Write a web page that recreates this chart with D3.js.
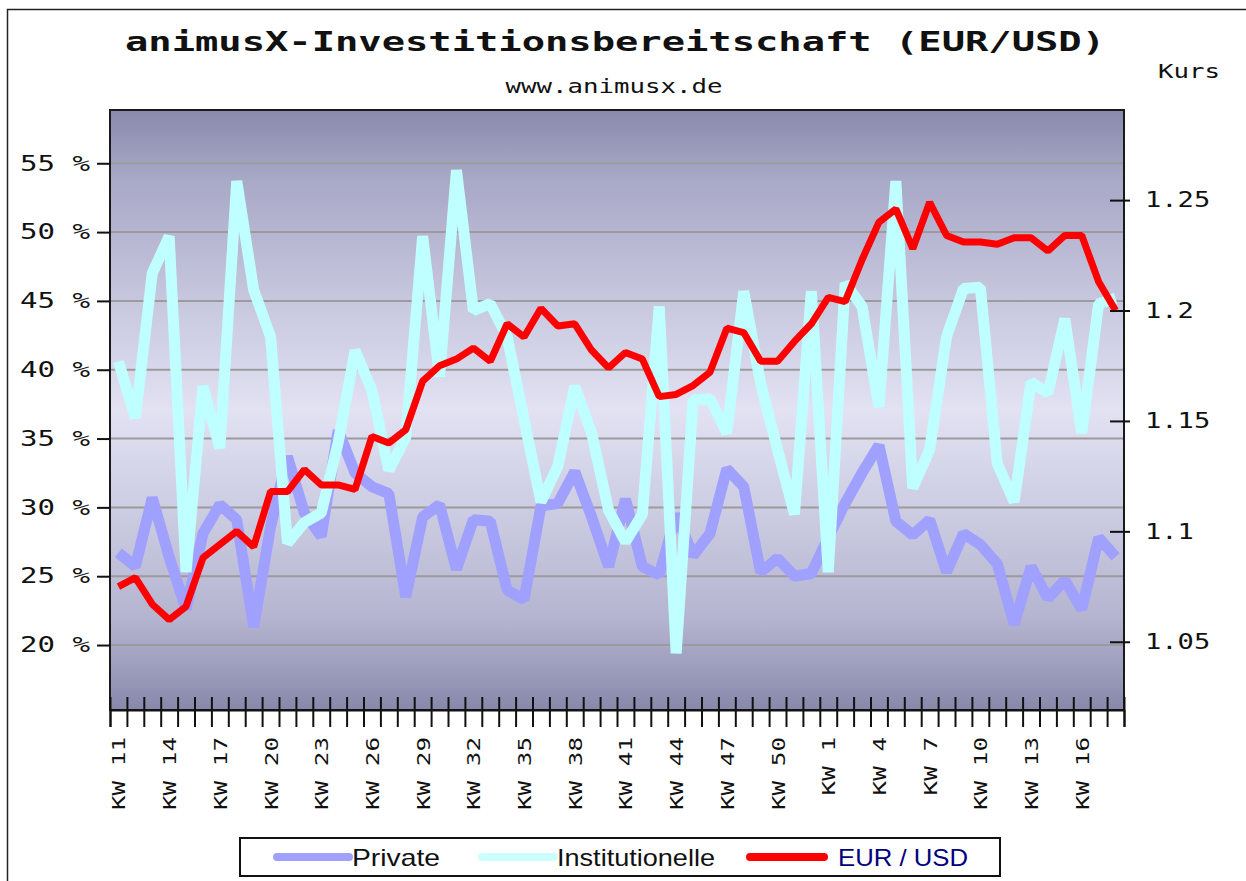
<!DOCTYPE html>
<meta charset="utf-8">
<style>
  body { margin: 0; background: #fff; }
  text { font-family: "DejaVu Sans Mono", monospace; fill: #111; }
  .legend text { font-family: "Liberation Sans", Arial, sans-serif; }
</style>
<body>
<script src="https://d3js.org/d3.v7.min.js"></script>
<script>

// calendar weeks (KW 11 .. KW 52, then KW 1 .. KW 18)
var weeks = [11, 12, 13, 14, 15, 16, 17, 18, 19, 20, 21, 22, 23, 24, 25, 26, 27, 28, 29, 30,
             31, 32, 33, 34, 35, 36, 37, 38, 39, 40, 41, 42, 43, 44, 45, 46, 47, 48, 49, 50,
             51, 52, 1, 2, 3, 4, 5, 6, 7, 8, 9, 10, 11, 12, 13, 14, 15, 16, 17, 18];

// weeks that get a label on the x axis
var labelWeeks = [11, 14, 17, 20, 23, 26, 29, 32, 35, 38, 41, 44, 47, 50, 1, 4, 7, 10, 13, 16];

// investment readiness in percent
var privateVals = [26.7, 25.7, 30.7, 26.4, 22.6, 28.1, 30.2, 29.1, 21.3, 28.6,
                   33.7, 29.6, 27.9, 35.6, 32.5, 31.5, 31.0, 23.5, 29.3, 30.2,
                   25.5, 29.1, 29.0, 24.0, 23.3, 30.1, 30.3, 32.6, 29.3, 25.7,
                   30.6, 25.7, 25.1, 29.5, 26.5, 28.1, 32.8, 31.5, 25.3, 26.3,
                   25.0, 25.2, 27.8, 30.3, 32.5, 34.5, 29.0, 28.0, 29.1, 25.3,
                   28.1, 27.3, 25.9, 21.5, 25.7, 23.4, 24.7, 22.6, 27.8, 26.4];

var instVals = [40.6, 36.5, 47.0, 49.7, 25.3, 38.8, 34.3, 53.7, 45.8, 42.4,
                27.4, 28.9, 29.6, 34.7, 41.4, 38.5, 32.7, 35.1, 49.7, 39.5,
                54.5, 44.3, 44.8, 42.4, 36.4, 30.4, 33.0, 38.8, 35.4, 29.8,
                27.5, 29.5, 44.6, 19.4, 37.8, 37.9, 35.4, 45.7, 39.0, 34.2,
                29.5, 45.7, 25.3, 46.3, 44.6, 37.3, 53.7, 31.4, 34.2, 42.4,
                45.9, 46.0, 33.2, 30.4, 39.1, 38.3, 43.7, 35.4, 44.8, 45.2];

// EUR/USD rate (right axis)
var eurUsd = [1.075, 1.079, 1.067, 1.060, 1.066, 1.088, 1.094, 1.100, 1.093, 1.118,
              1.118, 1.128, 1.121, 1.121, 1.119, 1.143, 1.140, 1.146, 1.168, 1.175,
              1.178, 1.183, 1.177, 1.194, 1.188, 1.201, 1.193, 1.194, 1.182, 1.174,
              1.181, 1.178, 1.161, 1.162, 1.166, 1.172, 1.192, 1.190, 1.177, 1.177,
              1.186, 1.194, 1.206, 1.204, 1.223, 1.240, 1.246, 1.228, 1.249, 1.234,
              1.231, 1.231, 1.230, 1.233, 1.233, 1.227, 1.234, 1.234, 1.213, 1.200];

var pctTicks = [20, 25, 30, 35, 40, 45, 50, 55];
var kursTicks = [1.05, 1.1, 1.15, 1.2, 1.25];

// plot box
var plotL = 110, plotR = 1124, plotT = 110, plotB = 710;

var svg = d3.select("body").append("svg")
    .attr("width", 1246)
    .attr("height", 881);

// background gradient of the plot
var grad = svg.append("defs").append("linearGradient")
    .attr("id", "bg").attr("x1", 0).attr("y1", 0).attr("x2", 0).attr("y2", 1);
grad.append("stop").attr("offset", "0").attr("stop-color", "#8a8aac");
grad.append("stop").attr("offset", "0.12").attr("stop-color", "#a9a9c8");
grad.append("stop").attr("offset", "0.5").attr("stop-color", "#e2e2f3");
grad.append("stop").attr("offset", "0.85").attr("stop-color", "#b4b4d0");
grad.append("stop").attr("offset", "1").attr("stop-color", "#8888ab");

// outer frame (left and top only visible)
svg.append("path")
    .attr("d", "M7.5,881V9.5H1246")
    .attr("fill", "none")
    .attr("stroke", "#222")
    .attr("stroke-width", 1.5);

// scales
var idx = weeks.map(function(w, i) { return i; });
var x = d3.scaleBand().domain(idx).range([plotL, plotR]);
var xTick = d3.scaleLinear().domain([0, weeks.length]).range([plotL, plotR]);
var yL = d3.scaleLinear().domain([15.28, 58.87]).range([plotB, plotT]);
var yR = d3.scaleLinear().domain([1.0191, 1.2908]).range([plotB, plotT]);

function cx(i) { return x(i) + x.bandwidth() / 2; }

svg.append("rect")
    .attr("x", plotL).attr("y", plotT)
    .attr("width", plotR - plotL).attr("height", plotB - plotT)
    .attr("fill", "url(#bg)");

// grid lines
svg.append("g").selectAll("line")
    .data(pctTicks)
  .enter().append("line")
    .attr("x1", plotL).attr("x2", plotR)
    .attr("y1", function(d) { return yL(d); })
    .attr("y2", function(d) { return yL(d); })
    .attr("stroke", "#9c9a9a")
    .attr("stroke-width", 2);

// the three lines
function drawLine(vals, scale, color, w) {
  var line = d3.line()
      .x(function(d, i) { return cx(i); })
      .y(function(d) { return scale(d); });
  svg.append("path")
      .datum(vals)
      .attr("d", line)
      .attr("fill", "none")
      .attr("stroke", color)
      .attr("stroke-width", w)
      .attr("stroke-linejoin", "bevel");
}
drawLine(privateVals, yL, "#a0a0ff", 11);
drawLine(instVals, yL, "#bfffff", 11);
drawLine(eurUsd, yR, "#ff0000", 7);

// plot border
svg.append("rect")
    .attr("x", plotL).attr("y", plotT)
    .attr("width", plotR - plotL).attr("height", plotB - plotT)
    .attr("fill", "none")
    .attr("stroke", "#1a1a1a")
    .attr("stroke-width", 2);

// left axis
var gL = svg.append("g")
    .attr("transform", "translate(" + plotL + ",0)")
    .call(d3.axisLeft(yL).tickValues(pctTicks).tickSize(13).tickPadding(7)
      .tickFormat(function(d) { return d + " %"; }));
gL.select(".domain").remove();
gL.selectAll("line").attr("stroke", "#111").attr("stroke-width", 2);
gL.selectAll("text")
    .style("font-size", "21px")
    .attr("fill", "#111")
    .attr("textLength", 70)
    .attr("lengthAdjust", "spacingAndGlyphs");

// right axis
var gR = svg.append("g")
    .attr("transform", "translate(" + plotR + ",0)")
    .call(d3.axisRight(yR).tickValues(kursTicks).tickSize(6).tickPadding(15)
      .tickFormat(function(d) { return String(+d.toFixed(2)); }));
gR.select(".domain").remove();
gR.selectAll("line").attr("x1", -14).attr("stroke", "#111").attr("stroke-width", 2);
gR.selectAll("text")
    .style("font-size", "21px")
    .attr("fill", "#111")
    .attr("textLength", function(d) { return String(+d.toFixed(2)).length * 16.3; })
    .attr("lengthAdjust", "spacingAndGlyphs");

// bottom axis: ticks at the week boundaries
var gB = svg.append("g")
    .attr("transform", "translate(0," + plotB + ")")
    .call(d3.axisBottom(xTick).tickValues(d3.range(weeks.length + 1)).tickSize(17).tickFormat(""));
gB.select(".domain").attr("stroke", "#111").attr("stroke-width", 2);
gB.selectAll("line").attr("y1", -13).attr("stroke", "#111").attr("stroke-width", 2);

// week labels, rotated
var labelled = idx.filter(function(i) {
  return i % 3 === 0 && labelWeeks.indexOf(weeks[i]) >= 0;
});
svg.append("g").selectAll("text")
    .data(labelled)
  .enter().append("text")
    .attr("transform", function(i) { return "translate(" + (cx(i) + 1) + ",737)rotate(-90)"; })
    .attr("text-anchor", "end")
    .attr("dy", "0.35em")
    .style("font-size", "17px")
    .attr("textLength", function(i) { return ("KW " + weeks[i]).length * 14.6; })
    .attr("lengthAdjust", "spacingAndGlyphs")
    .text(function(i) { return "KW " + weeks[i]; });

// titles
svg.append("text")
    .attr("x", 615).attr("y", 51)
    .attr("text-anchor", "middle")
    .style("font-size", "27px")
    .style("font-weight", "bold")
    .attr("textLength", 980)
    .attr("lengthAdjust", "spacingAndGlyphs")
    .text("animusX-Investitionsbereitschaft (EUR/USD)");

svg.append("text")
    .attr("x", 614).attr("y", 93)
    .attr("text-anchor", "middle")
    .style("font-size", "19px")
    .attr("textLength", 217)
    .attr("lengthAdjust", "spacingAndGlyphs")
    .text("www.animusx.de");

svg.append("text")
    .attr("x", 1158).attr("y", 78)
    .style("font-size", "19px")
    .attr("textLength", 62)
    .attr("lengthAdjust", "spacingAndGlyphs")
    .text("Kurs");

// legend
var legend = svg.append("g").attr("class", "legend");
legend.append("rect")
    .attr("x", 240).attr("y", 838)
    .attr("width", 760).attr("height", 38)
    .attr("fill", "#fff")
    .attr("stroke", "#111")
    .attr("stroke-width", 2);

var legendItems = [
  {name: "Private", color: "#a0a0ff", x0: 277, x1: 349, tx: 352, tw: 88, text: "#111"},
  {name: "Institutionelle", color: "#ccffff", x0: 482, x1: 554, tx: 557, tw: 158, text: "#111"},
  {name: "EUR / USD", color: "#ff0000", x0: 750, x1: 824, tx: 838, tw: 130, text: "#000080"}
];
legendItems.forEach(function(d) {
  legend.append("line")
      .attr("x1", d.x0).attr("x2", d.x1)
      .attr("y1", 857).attr("y2", 857)
      .attr("stroke", d.color)
      .attr("stroke-width", 8)
      .attr("stroke-linecap", "round");
  legend.append("text")
      .attr("x", d.tx).attr("y", 866)
      .style("font-size", "24px")
      .style("fill", d.text)
      .attr("textLength", d.tw)
      .attr("lengthAdjust", "spacingAndGlyphs")
      .text(d.name);
});

</script>
</body>
